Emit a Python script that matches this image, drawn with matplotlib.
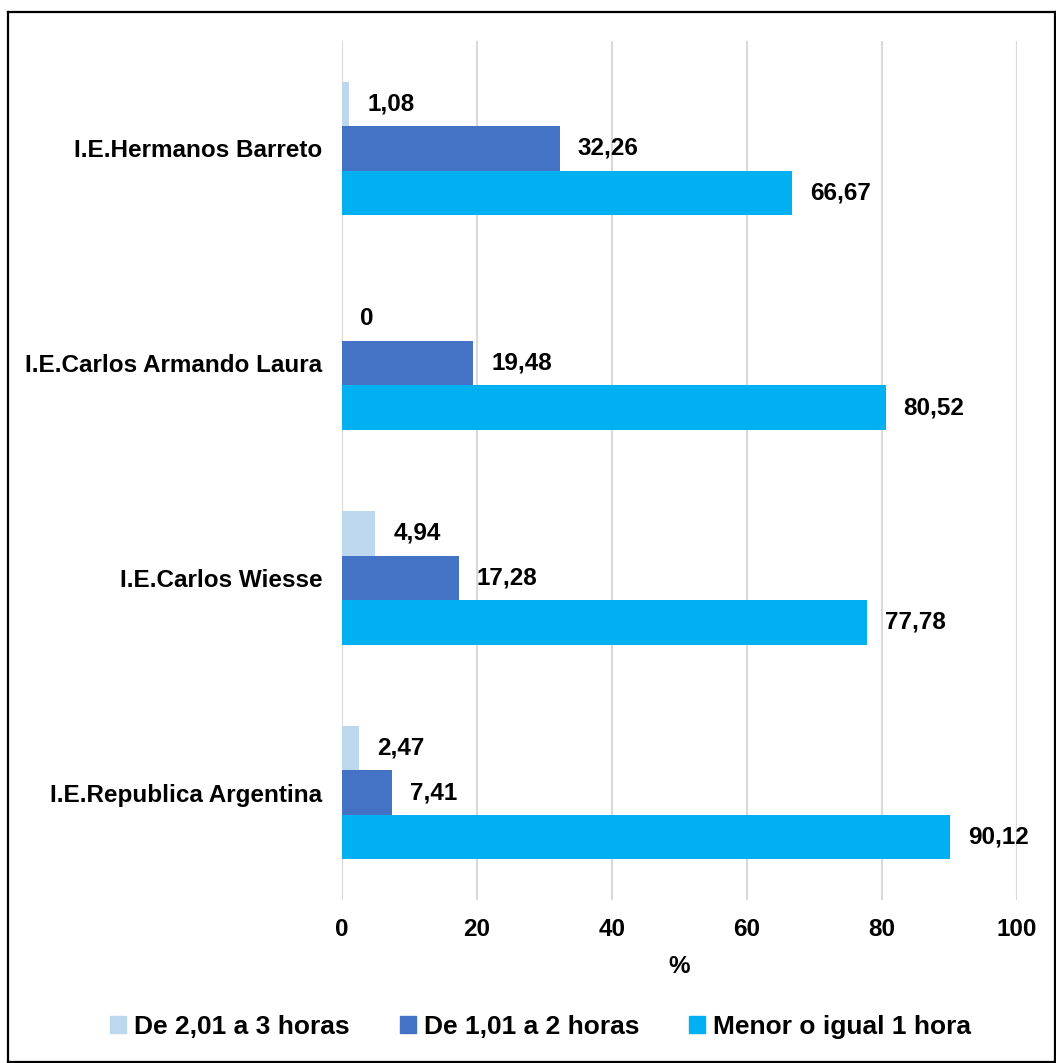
import matplotlib
matplotlib.use("Agg")
import matplotlib.pyplot as plt
from matplotlib.patches import Rectangle
from matplotlib.lines import Line2D
import numpy as np

plt.rcParams['font.family'] = ['Liberation Sans', 'DejaVu Sans']
plt.rcParams['font.weight'] = 'bold'

categories = ["I.E.Hermanos Barreto", "I.E.Carlos Armando Laura", "I.E.Carlos Wiesse", "I.E.Republica Argentina"]
series_names = ["De 2,01 a 3 horas", "De 1,01 a 2 horas", "Menor o igual 1 hora"]
v_2a3 = [1.08, 0, 4.94, 2.47]
v_1a2 = [32.26, 19.48, 17.28, 7.41]
v_menor1 = [66.67, 80.52, 77.78, 90.12]
colors = ["#BDD7EE", "#4472C4", "#00B0F0"]
xticks = [0, 20, 40, 60, 80, 100]

W, H = 1056, 1063
fig = plt.figure(figsize=(W/100, H/100), dpi=100)
ax = fig.add_axes([342/W, 1-900/H, (1017-342)/W, (900-41)/H])

n = len(categories)
ypos = np.arange(n)[::-1].astype(float)
h = 0.207
series = [v_2a3, v_1a2, v_menor1]
offsets = [h, 0, -h]
fs = 17.5
for vals, col, off in zip(series, colors, offsets):
    bars = ax.barh(ypos + off, vals, height=h, color=col, zorder=3)
    for b, v in zip(bars, vals):
        txt = ("%.2f" % v).replace('.', ',') if v != 0 else "0"
        ax.annotate(txt, (b.get_width(), b.get_y() + b.get_height()/2),
                    xytext=(13, 0), textcoords='offset points',
                    ha='left', va='center', fontsize=fs, fontweight='bold')

ax.set_xlim(0, 100)
ax.set_ylim(-0.5, n - 0.5)
ax.set_xticks(xticks)
ax.set_xticklabels([str(t) for t in xticks], fontsize=fs, fontweight='bold')
ax.set_yticks(ypos)
ax.set_yticklabels(categories, fontsize=fs, fontweight='bold')
ax.tick_params(length=0, pad=14)
ax.tick_params(axis='x', pad=13)
ax.grid(axis='x', color='#d9d9d9', linewidth=1.5, zorder=0)
for s in ax.spines.values():
    s.set_visible(False)
ax.set_xlabel("%", fontsize=fs, fontweight='bold', labelpad=10)

handles = [Rectangle((0, 0), 1, 1, color=c) for c in colors]
fig.legend(handles, series_names, loc='center', bbox_to_anchor=(0.512, 1-1027/H),
           ncol=3, frameon=False, handlelength=0.6, handleheight=0.6,
           handletextpad=0.3, columnspacing=1.9, prop={'weight': 'bold', 'size': 19})

# outer border
bx0, by0 = 8/W, 1-12/H
fig.add_artist(Line2D([bx0, bx0], [0, by0], transform=fig.transFigure, color='black', lw=1.6))
fig.add_artist(Line2D([bx0, 1-1/W], [by0, by0], transform=fig.transFigure, color='black', lw=1.6))
fig.add_artist(Line2D([1-1/W, 1-1/W], [0, by0], transform=fig.transFigure, color='black', lw=1.6))
fig.add_artist(Line2D([bx0, 1-1/W], [1/H, 1/H], transform=fig.transFigure, color='black', lw=1.6))

fig.savefig("out.png", dpi=100)
